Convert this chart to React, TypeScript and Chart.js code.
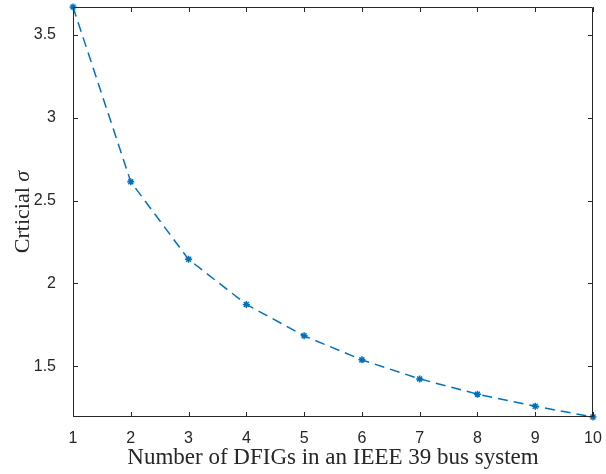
import React, { useEffect, useRef } from "react";
import { Chart, registerables } from "chart.js";

Chart.register(...registerables);

const numDFIGs = [1, 2, 3, 4, 5, 6, 7, 8, 9, 10];
const criticalSigma = [3.669, 2.613, 2.145, 1.873, 1.683, 1.538, 1.423, 1.331, 1.258, 1.193];
const yTicks = [1.5, 2, 2.5, 3, 3.5];
const xLabel = "Number of DFIGs in an IEEE 39 bus system";
const yLabelMain = "Crticial ";
const yLabelSym = "σ";

const AXIS_COLOR = "#262626";
const LINE_COLOR = "#0072BD";

const boxPlugin = {
  id: "boxTicks",
  afterDraw(chart: any) {
    const { ctx, chartArea } = chart;
    const { left, right, top, bottom } = chartArea;
    const xs = chart.scales.x;
    const ys = chart.scales.y;
    ctx.save();
    ctx.strokeStyle = AXIS_COLOR;
    ctx.lineWidth = 1;
    ctx.beginPath();
    ctx.rect(left + 0.5, top + 0.5, right - left - 1, bottom - top - 1);
    ctx.stroke();
    const tl = 5;
    ctx.beginPath();
    numDFIGs.forEach((v) => {
      const px = Math.round(xs.getPixelForValue(v)) + 0.5;
      ctx.moveTo(px, bottom);
      ctx.lineTo(px, bottom - tl);
      ctx.moveTo(px, top);
      ctx.lineTo(px, top + tl);
    });
    yTicks.forEach((v) => {
      const py = Math.round(ys.getPixelForValue(v)) + 0.5;
      ctx.moveTo(left, py);
      ctx.lineTo(left + tl, py);
      ctx.moveTo(right, py);
      ctx.lineTo(right - tl, py);
    });
    ctx.stroke();

    // y-axis label with italic sigma
    const cy = (top + bottom) / 2;
    ctx.translate(23, cy);
    ctx.rotate(-Math.PI / 2);
    ctx.fillStyle = AXIS_COLOR;
    ctx.textBaseline = "middle";
    const f1 = "22px 'Liberation Serif'";
    const f2 = "italic 22px 'Liberation Serif'";
    ctx.font = f1;
    const w1 = ctx.measureText(yLabelMain).width;
    ctx.font = f2;
    const w2 = ctx.measureText(yLabelSym).width;
    const start = -(w1 + w2) / 2;
    ctx.textAlign = "left";
    ctx.font = f1;
    ctx.fillText(yLabelMain, start, 0);
    ctx.font = f2;
    ctx.fillText(yLabelSym, start + w1, 0);
    ctx.restore();
  },
};

export default function App() {
  const ref = useRef<HTMLCanvasElement>(null);
  useEffect(() => {
    document.body.style.margin = "0";
    const chart = new Chart(ref.current!, {
      type: "line",
      data: {
        datasets: [
          {
            data: numDFIGs.map((x, i) => ({ x, y: criticalSigma[i] })),
            borderColor: LINE_COLOR,
            backgroundColor: LINE_COLOR,
            borderWidth: 1.5,
            borderDash: [10, 6],
            pointStyle: "star",
            pointRadius: 3.5,
            pointBorderWidth: 1.5,
            pointBorderColor: LINE_COLOR,
            tension: 0,
            fill: false,
            clip: false as any,
          },
        ],
      },
      options: {
        animation: false,
        responsive: false,
        layout: { padding: { top: 7, right: 13, left: 0, bottom: 0 } },
        plugins: { legend: { display: false }, tooltip: { enabled: false } },
        scales: {
          x: {
            type: "linear",
            min: 1,
            max: 10,
            grid: { display: false, drawTicks: false },
            border: { display: false },
            ticks: {
              stepSize: 1,
              color: AXIS_COLOR,
              padding: 12,
              font: { family: "'Liberation Sans', Arial, sans-serif", size: 16 },
            },
            title: {
              display: true,
              text: xLabel,
              color: AXIS_COLOR,
              font: { family: "'Liberation Serif', serif", size: 23 },
              padding: { top: 0, bottom: 2 },
            },
            afterFit(scale: any) {
              scale.height = 57;
              scale.paddingLeft = 0;
              scale.paddingRight = 0;
            },
          },
          y: {
            type: "linear",
            min: 1.193,
            max: 3.669,
            grid: { display: false, drawTicks: false },
            border: { display: false },
            ticks: {
              stepSize: 0.5,
              includeBounds: false,
              color: AXIS_COLOR,
              padding: 17,
              font: { family: "'Liberation Sans', Arial, sans-serif", size: 16 },
              callback: (v: any) => String(Number(v)),
            },
            afterFit(scale: any) {
              scale.width = 73;
              scale.paddingTop = 0;
              scale.paddingBottom = 0;
            },
          },
        },
      },
      plugins: [boxPlugin],
    });
    return () => chart.destroy();
  }, []);
  return <canvas ref={ref} width={606} height={474} style={{ display: "block" }} />;
}
